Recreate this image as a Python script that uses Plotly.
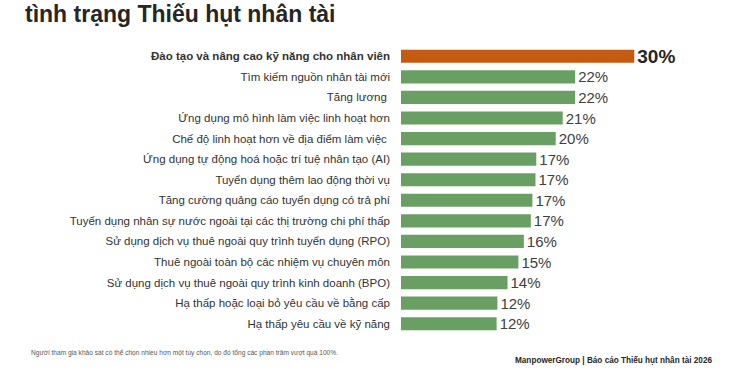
import plotly.graph_objects as go

categories = [
    "Đào tạo và nâng cao kỹ năng cho nhân viên",
    "Tìm kiếm nguồn nhân tài mới",
    "Tăng lương ",
    "Ứng dụng mô hình làm việc linh hoạt hơn",
    "Chế độ linh hoạt hơn về địa điểm làm việc ",
    "Ứng dụng tự động hoá hoặc trí tuệ nhân tạo (AI)",
    "Tuyển dụng thêm lao động thời vụ",
    "Tăng cường quảng cáo tuyển dụng có trả phí",
    "Tuyển dụng nhân sự nước ngoài tại các thị trường chi phí thấp",
    "Sử dụng dịch vụ thuê ngoài quy trình tuyển dụng (RPO)",
    "Thuê ngoài toàn bộ các nhiệm vụ chuyên môn",
    "Sử dụng dịch vụ thuê ngoài quy trình kinh doanh (BPO)",
    "Hạ thấp hoặc loại bỏ yêu cầu về bằng cấp",
    "Hạ thấp yêu cầu về kỹ năng",
]
values = [30, 22.4, 22.4, 20.8, 19.9, 17.4, 17.3, 16.9, 16.7, 15.8, 15.1, 13.7, 12.4, 12.3]
value_labels = ["30%", "22%", "22%", "21%", "20%", "17%", "17%", "17%", "17%", "16%", "15%", "14%", "12%", "12%"]

title_text = "tình trạng Thiếu hụt nhân tài"
footnote = "Người tham gia khảo sát có thể chọn nhiều hơn một tùy chọn, do đó tổng các phần trăm vượt quá 100%."
source = "ManpowerGroup | Báo cáo Thiếu hụt nhân tài 2026"

ORANGE = "#C55A11"
GREEN = "#6A9F63"
TEXT = "#404040"

W, H = 750, 375
ML, MR, MT, MB = 401, 38, 46, 41
PW, PH = W - ML - MR, H - MT - MB


def px(x):
    return (x - ML) / PW


def py(y):
    return (H - MB - y) / PH


tick_text = ["<b>" + categories[0] + "</b>"] + categories[1:]
colors = [ORANGE] + [GREEN] * (len(values) - 1)
text_sizes = [19] + [15] * (len(values) - 1)
text_colors = ["#262626"] + [TEXT] * (len(values) - 1)
labels = ["<b>" + value_labels[0] + "</b>"] + value_labels[1:]

fig = go.Figure(
    go.Bar(
        x=values,
        y=categories,
        orientation="h",
        marker=dict(color=colors, line=dict(width=0)),
        text=labels,
        textposition="outside",
        constraintext="none",
        textfont=dict(size=text_sizes, color=text_colors, family="Liberation Sans, Arial, sans-serif"),
        cliponaxis=False,
        hoverinfo="skip",
    )
)

fig.update_layout(
    width=W,
    height=H,
    margin=dict(l=ML, r=MR, t=MT, b=MB),
    paper_bgcolor="white",
    plot_bgcolor="white",
    bargap=0.36,
    showlegend=False,
    font=dict(family="Liberation Sans, Arial, sans-serif", color=TEXT),
    xaxis=dict(range=[0, 40], visible=False, fixedrange=True),
    yaxis=dict(
        autorange="reversed",
        tickmode="array",
        tickvals=categories,
        ticktext=tick_text,
        tickfont=dict(size=11.5, color="#333333"),
        showline=False,
        showgrid=False,
        ticks="",
        ticklabelstandoff=10,
        fixedrange=True,
    ),
    annotations=[
        dict(
            text="<b>" + title_text + "</b>",
            x=px(23), y=py(-1), xref="paper", yref="paper",
            showarrow=False, xanchor="left", yanchor="top",
            font=dict(size=23, color="#262626"),
        ),
        dict(
            text=footnote,
            x=px(29), y=py(352), xref="paper", yref="paper",
            showarrow=False, xanchor="left", yanchor="middle",
            font=dict(size=6.6, color="#595959"),
        ),
        dict(
            text="<b>" + source + "</b>",
            x=px(714), y=py(360), xref="paper", yref="paper",
            showarrow=False, xanchor="right", yanchor="middle",
            font=dict(size=8.2, color="#262626"),
        ),
    ],
)

fig.write_html(
    "out.html",
    config={"displayModeBar": False, "staticPlot": True},
    post_script="document.body.style.margin='0px';",
)
